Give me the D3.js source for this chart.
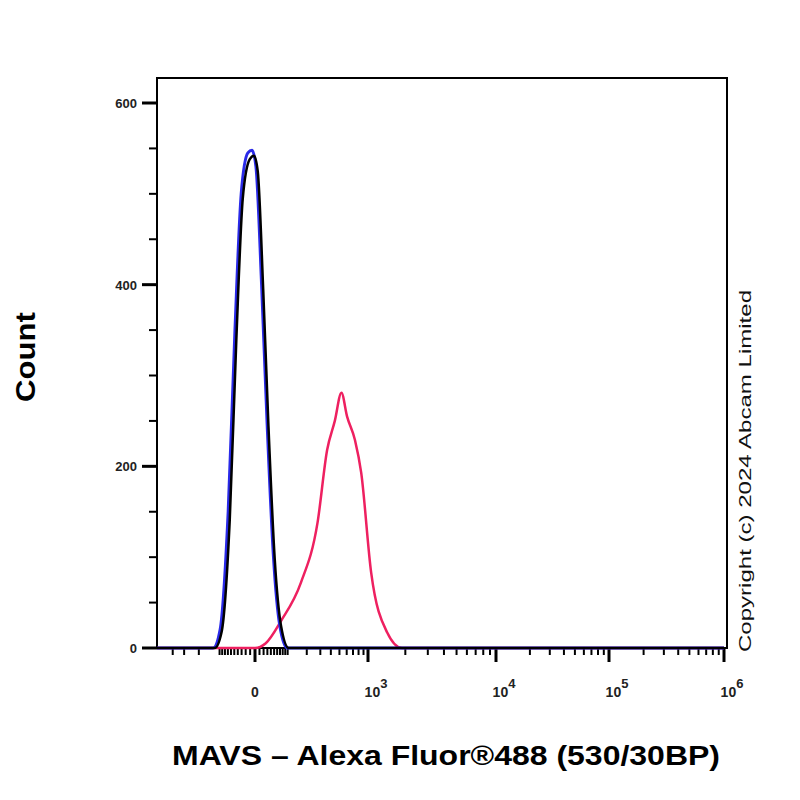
<!DOCTYPE html>
<html><head><meta charset="utf-8">
<script src="https://cdn.jsdelivr.net/npm/d3@7"></script>
<style>body{margin:0;background:#fff}svg{font-family:"Liberation Sans",Arial,sans-serif}</style>
</head><body><div id="chart"></div>
<script>
// histogram values (fluorescence value, count)
const blueX = [-580, -127, -98, -69, -48, -31, -15, -6, 2, 15, 29, 48, 69, 98, 1e6];
const blueY = [0, 0, 20, 150, 350, 500, 545, 548, 530, 400, 250, 100, 25, 0, 0];
const blackX = [-580, -120, -92, -64, -44, -27, -11, -2, 6, 19, 33, 52, 74, 105, 1e6];
const blackY = [0, 0, 18, 140, 340, 495, 538, 542, 525, 395, 245, 98, 24, 0, 0];
const redX = [-580, 0, 25, 74, 165, 277, 362, 444, 526, 605, 734, 852, 1062, 1434, 1880, 1e6];
const redY = [0, 0, 5, 30, 72, 138, 218, 250, 281, 255, 229, 193, 83, 17, 0, 0];
const yTicks = [0, 200, 400, 600];
const xMajor = [0, 1e3, 1e4, 1e5, 1e6];
const xLabels = ["0", "10", "10", "10", "10"];
const xExp = ["", "3", "4", "5", "6"];

const margin = { top: 78, right: 73, bottom: 152, left: 157 },
    width = 800 - margin.left - margin.right,
    height = 800 - margin.top - margin.bottom;

const svg = d3.select("#chart").append("svg")
    .attr("width", 800).attr("height", 800)
    .append("g")
    .attr("transform", "translate(" + margin.left + "," + margin.top + ")");

// biexponential-like display: symlog transform, then piecewise linear per decade
const t = v => Math.sign(v) * Math.log10(1 + Math.abs(v) / 100);
const xs = d3.scaleLinear()
    .domain([-580, 0, 1e3, 1e4, 1e5, 1e6].map(t))
    .range([0, 98, 211, 339, 452, 567]);
const x = v => xs(t(v));
const y = d3.scaleLinear().domain([0, 600]).range([height, height - 545]);

// frame
svg.append("rect").attr("width", width).attr("height", height)
    .attr("fill", "none").attr("stroke", "#000").attr("stroke-width", 2);

// y ticks
const yMinor = d3.range(0, 650, 50);
svg.selectAll(".yt").data(yMinor).enter().append("line")
    .attr("x1", d => yTicks.includes(d) ? -15 : -8).attr("x2", 0)
    .attr("y1", d => y(d)).attr("y2", d => y(d))
    .attr("stroke", "#000").attr("stroke-width", d => yTicks.includes(d) ? 3 : 2);
svg.selectAll(".yl").data(yTicks).enter().append("text")
    .attr("x", -20).attr("y", d => y(d) + 5).attr("text-anchor", "end")
    .attr("font-size", 13).attr("font-weight", "bold").attr("fill", "#222").text(d => d);

// x ticks
let xMinor = [-400, -300, -200].concat(d3.range(-100, 101, 10)).concat(d3.range(200, 1000, 100));
[1e3, 1e4, 1e5].forEach(b => { for (let k = 2; k < 10; k++) xMinor.push(b * k); });
svg.selectAll(".xt").data(xMinor).enter().append("line")
    .attr("x1", d => x(d)).attr("x2", d => x(d))
    .attr("y1", height).attr("y2", height + 7)
    .attr("stroke", "#000").attr("stroke-width", 2);
svg.selectAll(".xM").data(xMajor).enter().append("line")
    .attr("x1", d => x(d)).attr("x2", d => x(d))
    .attr("y1", height).attr("y2", height + 14)
    .attr("stroke", "#000").attr("stroke-width", 3);
const xl = svg.selectAll(".xl").data(xMajor).enter().append("text")
    .attr("x", (d, i) => x(d) + (i ? 8 : 0)).attr("y", height + 49).attr("text-anchor", "middle")
    .attr("font-size", 14).attr("font-weight", "bold").attr("fill", "#222");
xl.append("tspan").text((d, i) => xLabels[i]);
xl.append("tspan").attr("dy", -9).attr("font-size", 13).text((d, i) => xExp[i]);

// curves
const line = d3.line().curve(d3.curveMonotoneX);
function draw(xv, yv, color, w) {
    svg.append("path").attr("d", line(xv.map((v, i) => [x(v), y(yv[i])])))
        .attr("fill", "none").attr("stroke", color).attr("stroke-width", w);
}
draw(redX, redY, "#ee2060", 2.5);
draw(blueX, blueY, "#2a2ae8", 3);
draw(blackX, blackY, "#000", 2.5);

// titles
svg.append("text").attr("transform", "translate(-122," + (height / 2 - 6) + ") rotate(-90)")
    .attr("text-anchor", "middle").attr("font-size", 27).attr("font-weight", "bold")
    .attr("textLength", 90).attr("lengthAdjust", "spacingAndGlyphs").text("Count");
svg.append("text").attr("x", 289).attr("y", height + 117).attr("text-anchor", "middle")
    .attr("font-size", 27).attr("font-weight", "bold")
    .attr("textLength", 548).attr("lengthAdjust", "spacingAndGlyphs")
    .text("MAVS \u2013 Alexa Fluor\u00ae488 (530/30BP)");
svg.append("text").attr("transform", "translate(" + (width + 24) + "," + (height + 4) + ") rotate(-90)")
    .attr("font-size", 17).attr("fill", "#111")
    .attr("textLength", 362).attr("lengthAdjust", "spacingAndGlyphs")
    .text("Copyright (c) 2024 Abcam Limited");
</script></body></html>
